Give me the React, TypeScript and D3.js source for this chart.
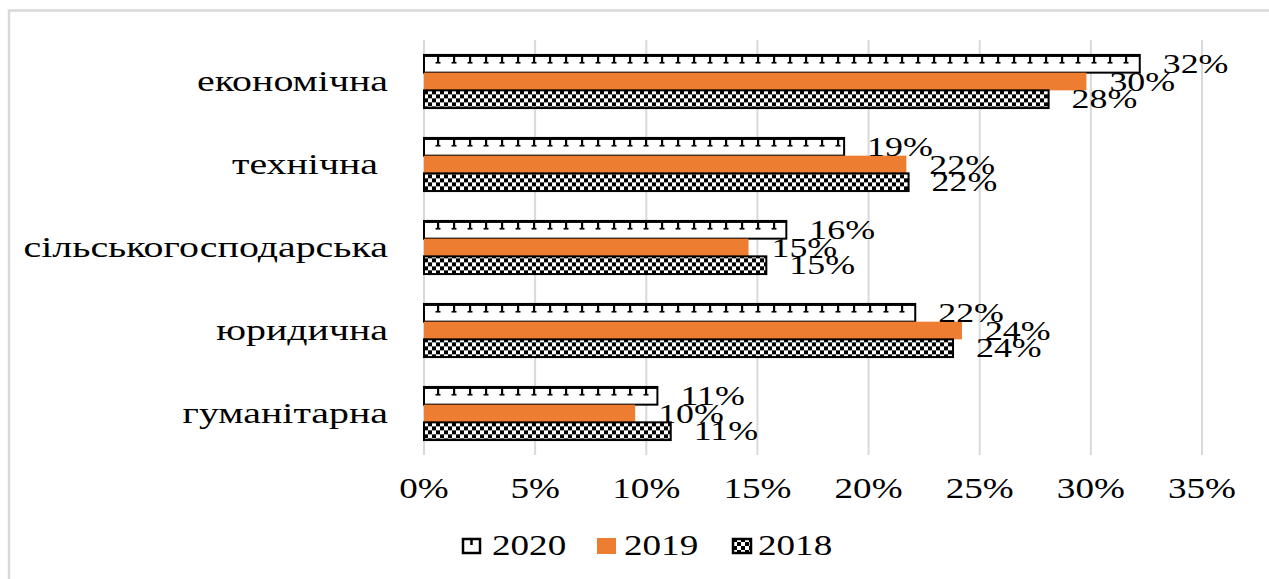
import React from 'react';
import * as d3 from 'd3';

const categories = ['економічна', 'технічна ', 'сільськогосподарська', 'юридична', 'гуманітарна'];
const years = ['2020', '2019', '2018'];
const values2020 = [32.2, 18.9, 16.3, 22.1, 10.5];
const values2019 = [29.8, 21.7, 14.6, 24.2, 9.5];
const values2018 = [28.1, 21.8, 15.4, 23.8, 11.1];
const xTicks = [0, 5, 10, 15, 20, 25, 30, 35];

const W = 1269;
const H = 579;
const FONT = "'Liberation Serif', 'Times New Roman', Times, serif";
const SX = 1.28;
const SXC = 1.33;
const ORANGE = '#ED7D31';

export default function App() {
  const x = d3.scaleLinear().domain([0, 35]).range([424, 1202]);
  const y = d3.scaleBand<string>().domain(categories).range([40, 455]).padding(0);
  const bw = y.bandwidth();
  const sub = d3.scaleBand<string>().domain(years).range([bw * 0.18, bw * 0.82]).padding(0);
  const bh = sub.bandwidth();
  const seriesValues: Record<string, number[]> = { '2020': values2020, '2019': values2019, '2018': values2018 };
  const fills: Record<string, string> = { '2020': 'url(#pat2020)', '2019': ORANGE, '2018': 'url(#pat2018)' };

  const y2020 = (y(categories[0]) as number) + (sub('2020') as number);
  const y2018 = (y(categories[0]) as number) + (sub('2018') as number);

  const legendItems = [
    { year: '2020', mx: 463, tx: 492 },
    { year: '2019', mx: 597, tx: 624 },
    { year: '2018', mx: 733, tx: 758 },
  ];

  const ts: React.CSSProperties = { fontFamily: FONT, whiteSpace: 'pre' };

  return (
    <svg width={W} height={H} style={{ position: 'absolute', left: 0, top: 0, background: '#fff', fontFamily: FONT }}>
      <defs>
        <pattern id="pat2020" patternUnits="userSpaceOnUse" x={430} y={y2020} width={16} height={y.step()}>
          <rect x={0} y={0} width={16} height={y.step()} fill="#fff" />
          <rect x={0} y={0} width={16} height={2} fill="#000" />
          <rect x={7} y={0} width={2.2} height={8} fill="#000" />
          <rect x={5.5} y={7} width={5} height={1.6} fill="#000" />
        </pattern>
        <pattern id="pat2018" patternUnits="userSpaceOnUse" x={0} y={y2018} width={8} height={8}>
          <rect x={0} y={0} width={8} height={8} fill="#fff" />
          <rect x={0} y={0} width={4} height={4} fill="#000" />
          <rect x={4} y={4} width={4} height={4} fill="#000" />
        </pattern>
        <pattern id="leg2018" patternUnits="userSpaceOnUse" x={733} y={538} width={8} height={8}>
          <rect x={0} y={0} width={8} height={8} fill="#fff" />
          <rect x={0} y={0} width={4} height={4} fill="#000" />
          <rect x={4} y={4} width={4} height={4} fill="#000" />
        </pattern>
      </defs>
      <rect x={0} y={0} width={W} height={H} fill="#fff" />
      <rect x={9} y={10.5} width={1400} height={700} fill="none" stroke="#d9d9d9" strokeWidth={2.5} />

      {xTicks.map((t) => (
        <line key={'g' + t} x1={x(t)} x2={x(t)} y1={40} y2={455} stroke="#d9d9d9" strokeWidth={2} />
      ))}

      {categories.map((c, i) => (
        <g key={c}>
          {years.map((yr) => {
            const v = seriesValues[yr][i];
            const by = (y(c) as number) + (sub(yr) as number);
            const patterned = yr !== '2019';
            return (
              <rect
                key={yr}
                x={x(0)}
                y={by}
                width={x(v) - x(0)}
                height={bh}
                fill={fills[yr]}
                stroke={patterned ? '#000' : 'none'}
                strokeWidth={patterned ? 2 : 0}
              />
            );
          })}
        </g>
      ))}

      {categories.map((c, i) => (
        <g key={'l' + c}>
          {years.map((yr) => {
            const v = seriesValues[yr][i];
            const cy = (y(c) as number) + (sub(yr) as number) + bh / 2;
            return (
              <text
                key={yr}
                transform={`translate(${x(v) + 23},${cy + 9}) scale(${SX},1)`}
                fontSize={28}
                fill="#000"
                style={ts}
              >
                {Math.round(v) + '%'}
              </text>
            );
          })}
        </g>
      ))}

      {categories.map((c) => (
        <text
          key={'c' + c}
          transform={`translate(388,${(y(c) as number) + bw / 2 + 9}) scale(${SXC},1)`}
          textAnchor="end"
          fontSize={30}
          fill="#000"
          style={ts}
        >
          {c}
        </text>
      ))}

      {xTicks.map((t) => (
        <text
          key={'t' + t}
          transform={`translate(${x(t)},498) scale(${SX},1)`}
          textAnchor="middle"
          fontSize={29}
          fill="#000"
          style={ts}
        >
          {t + '%'}
        </text>
      ))}

      {legendItems.map((it) => (
        <g key={'leg' + it.year}>
          {it.year === '2020' && (
            <g>
              <rect x={it.mx} y={539} width={17} height={14} fill="#fff" stroke="#000" strokeWidth={2.5} />
              <line x1={it.mx + 8.5} x2={it.mx + 8.5} y1={539} y2={545} stroke="#000" strokeWidth={2.5} />
            </g>
          )}
          {it.year === '2019' && <rect x={it.mx} y={538} width={19} height={16} fill={ORANGE} />}
          {it.year === '2018' && (
            <rect x={it.mx} y={539} width={18} height={14} fill="url(#leg2018)" stroke="#000" strokeWidth={2.5} />
          )}
          <text transform={`translate(${it.tx},555) scale(${SX},1)`} fontSize={29} fill="#000" style={ts}>
            {it.year}
          </text>
        </g>
      ))}
    </svg>
  );
}
